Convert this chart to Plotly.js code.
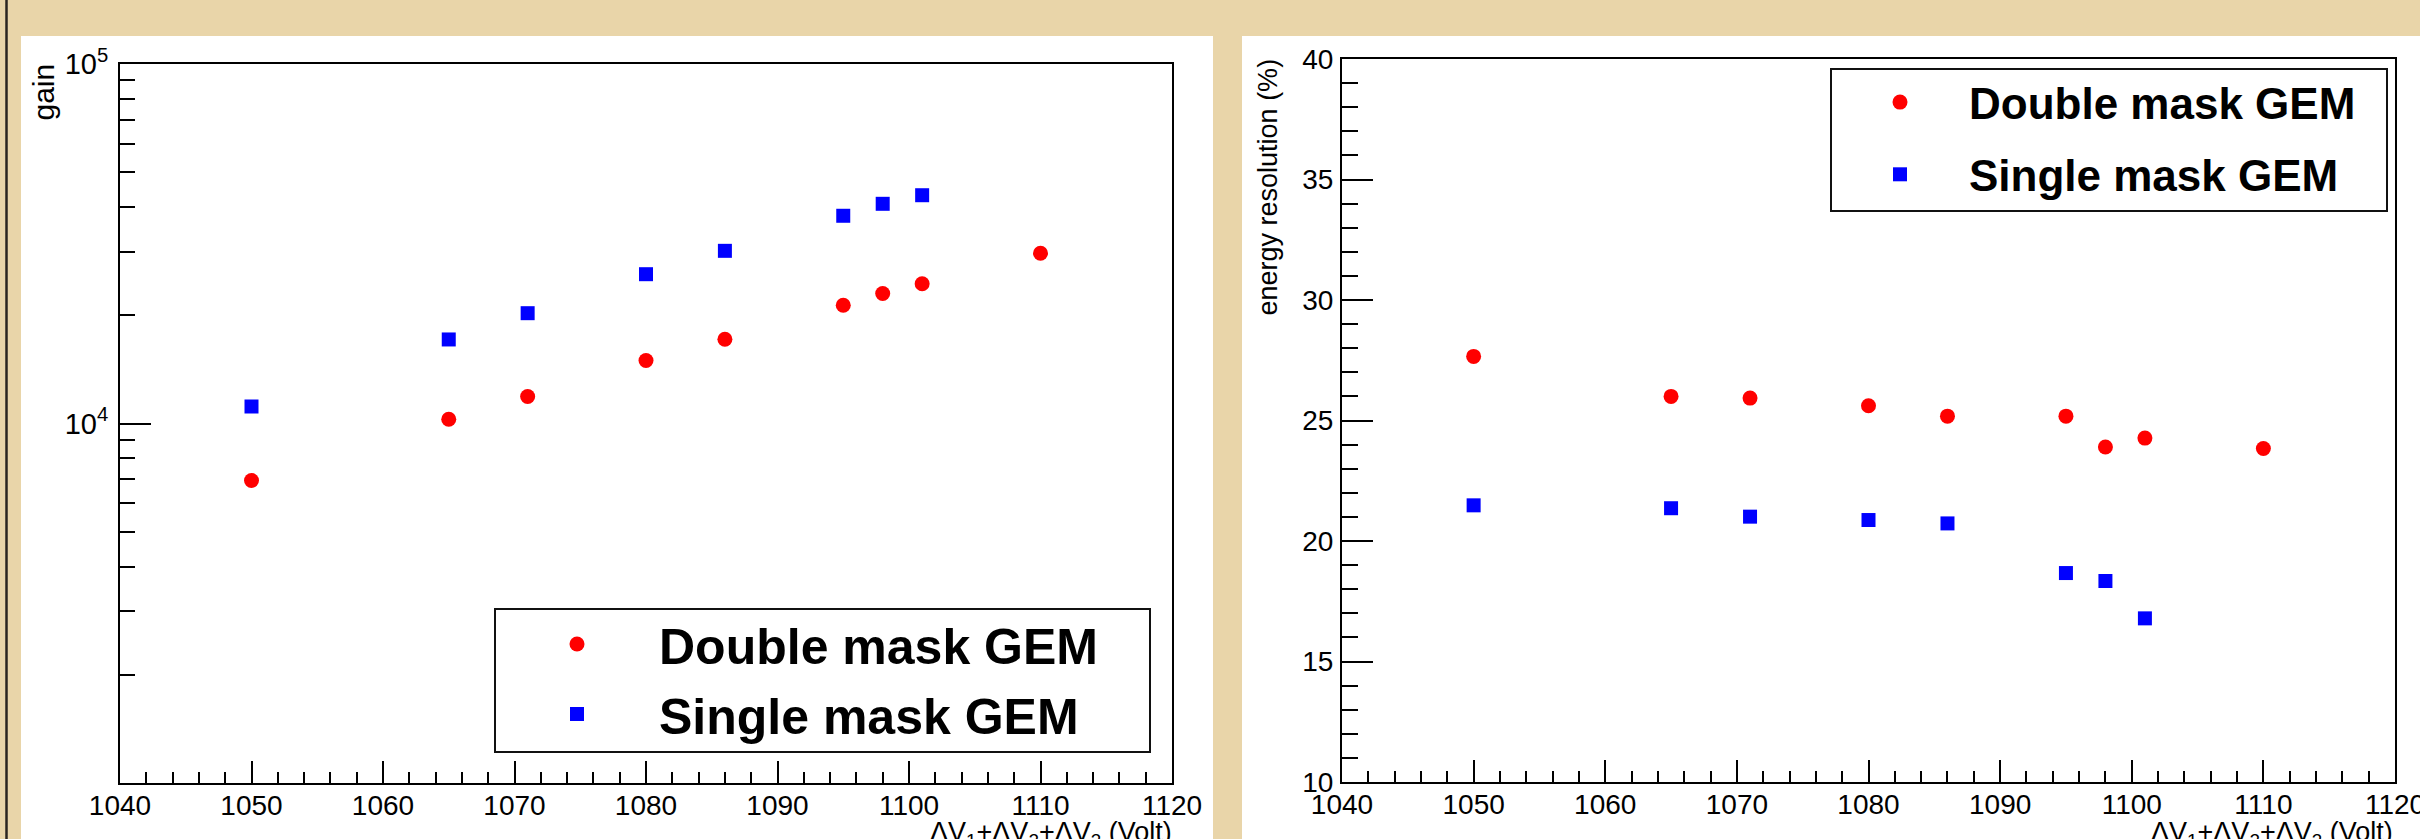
<!DOCTYPE html>
<html>
<head>
<meta charset="utf-8">
<script src="https://cdn.plot.ly/plotly-3.0.1.min.js"></script>
<style>html,body{margin:0;padding:0;background:#e9d5a9;}</style>
</head>
<body>
<div id="chart" style="width:2420px;height:839px;"></div>
<script>
// ---- data ----
const voltageDouble = [1050, 1065, 1071, 1080, 1086, 1095, 1098, 1101, 1110];
const voltageSingle = [1050, 1065, 1071, 1080, 1086, 1095, 1098, 1101];
const gainDouble = [6940, 10280, 11890, 14970, 17160, 21330, 22990, 24470, 29770];
const gainSingle = [11150, 17130, 20270, 26020, 30220, 37830, 40840, 43150];
const resDouble = [27.66, 26.0, 25.93, 25.61, 25.18, 25.18, 23.90, 24.27, 23.84];
const resSingle = [21.48, 21.36, 21.01, 20.87, 20.73, 18.67, 18.34, 16.79];
const seriesNames = ['Double mask GEM', 'Single mask GEM'];
const gainTickVals = [1e4, 1e5];
const gainTickText = ['10<sup>4</sup>', '10<sup>5</sup>'];
const xTitle = '\u0394V<sub>1</sub>+\u0394V<sub>2</sub>+\u0394V<sub>3</sub> (Volt)';
const yTitleLeft = 'gain';
const yTitleRight = 'energy resolution (%)';

// ---- layout helpers ----
const W = 2420, H = 839;
const px = v => v / W;
const py = v => (H - v) / H;
const FONT = 'Liberation Sans, Arial, Helvetica, sans-serif';

const gainMinor = [];
for (let d = 1e3; d < 1e5; d *= 10) for (let k = 2; k <= 9; k++) gainMinor.push(k * d);

const redMarker = {symbol: 'circle', size: 15, color: '#ff0000'};
const blueMarker = {symbol: 'square', size: 14, color: '#0000ff'};

const traces = [
  {x: voltageDouble, y: gainDouble, type: 'scatter', mode: 'markers', name: seriesNames[0],
   marker: redMarker, xaxis: 'x', yaxis: 'y', legend: 'legend', legendgroup: 'a'},
  {x: voltageSingle, y: gainSingle, type: 'scatter', mode: 'markers', name: seriesNames[1],
   marker: blueMarker, xaxis: 'x', yaxis: 'y', legend: 'legend', legendgroup: 'b'},
  {x: voltageDouble, y: resDouble, type: 'scatter', mode: 'markers', name: seriesNames[0],
   marker: redMarker, xaxis: 'x2', yaxis: 'y2', legend: 'legend2', legendgroup: 'c'},
  {x: voltageSingle, y: resSingle, type: 'scatter', mode: 'markers', name: seriesNames[1],
   marker: blueMarker, xaxis: 'x2', yaxis: 'y2', legend: 'legend2', legendgroup: 'd'}
];

const baseAxis = {
  showline: true, linecolor: '#000', linewidth: 2, mirror: true,
  showgrid: false, zeroline: false, ticks: 'inside', tickcolor: '#000', tickwidth: 2,
  tickfont: {family: FONT, size: 28, color: '#000'}, automargin: false,
  ticklabeloverflow: 'allow'
};

const xAxisCommon = Object.assign({}, baseAxis, {
  range: [1040, 1120], tickmode: 'linear', tick0: 1040, dtick: 10, ticklen: 22,
  minor: {ticks: 'inside', ticklen: 11, dtick: 2, tick0: 1040, tickcolor: '#000', tickwidth: 2, showgrid: false},
  ticklabelstandoff: -4
});

const legendBox = (x0, y0, x1, y1) => ({
  type: 'rect', xref: 'paper', yref: 'paper', x0: px(x0), x1: px(x1), y0: py(y1), y1: py(y0),
  fillcolor: '#ffffff', line: {color: '#111', width: 2}, layer: 'above'
});

const layout = {
  width: W, height: H, autosize: false,
  margin: {l: 0, r: 0, t: 0, b: 0, pad: 0},
  paper_bgcolor: '#e9d5a9', plot_bgcolor: '#ffffff',
  showlegend: true,
  xaxis: Object.assign({}, xAxisCommon, {domain: [px(120), px(1172)], anchor: 'y'}),
  yaxis: Object.assign({}, baseAxis, {
    type: 'log', range: [3, 5], domain: [py(783), py(64)], anchor: 'x',
    tickmode: 'array', tickvals: gainTickVals, ticktext: gainTickText, ticklen: 31,
    minor: {ticks: 'inside', ticklen: 15, tickmode: 'array', tickvals: gainMinor, tickcolor: '#000', tickwidth: 2, showgrid: false},
    tickfont: {family: FONT, size: 29, color: '#000'}, ticklabelstandoff: 4
  }),
  xaxis2: Object.assign({}, xAxisCommon, {domain: [px(1342), px(2395)], anchor: 'y2'}),
  yaxis2: Object.assign({}, baseAxis, {
    range: [10, 40], domain: [py(782), py(59)], anchor: 'x2',
    tickmode: 'linear', tick0: 10, dtick: 5, ticklen: 31,
    minor: {ticks: 'inside', ticklen: 16, dtick: 1, tick0: 10, tickcolor: '#000', tickwidth: 2, showgrid: false},
    tickfont: {family: FONT, size: 28, color: '#000'}, ticklabelstandoff: 1
  }),
  legend: {
    x: px(495), y: py(605), xanchor: 'left', yanchor: 'top', xref: 'paper', yref: 'paper',
    bgcolor: 'rgba(0,0,0,0)', borderwidth: 0,
    font: {family: FONT, size: 50, color: '#000', weight: 'bold'},
    itemwidth: 154, tracegroupgap: 2, traceorder: 'grouped'
  },
  legend2: {
    x: px(1831), y: py(67), xanchor: 'left', yanchor: 'top', xref: 'paper', yref: 'paper',
    bgcolor: 'rgba(0,0,0,0)', borderwidth: 0,
    font: {family: FONT, size: 44, color: '#000', weight: 'bold'},
    itemwidth: 128, tracegroupgap: 12, traceorder: 'grouped'
  },
  shapes: [
    {type: 'rect', xref: 'paper', yref: 'paper', x0: px(21), x1: px(1213), y0: 0, y1: py(36),
     fillcolor: '#ffffff', line: {width: 0}, layer: 'below'},
    {type: 'rect', xref: 'paper', yref: 'paper', x0: px(1242), x1: 1, y0: 0, y1: py(36),
     fillcolor: '#ffffff', line: {width: 0}, layer: 'below'},
    {type: 'line', xref: 'paper', yref: 'paper', x0: px(6.5), x1: px(6.5), y0: 0, y1: 1,
     line: {color: '#2a2520', width: 2.5}, layer: 'below'},
    legendBox(495, 609, 1150, 752),
    legendBox(1831, 69, 2387, 211)
  ],
  annotations: [
    {text: yTitleLeft, textangle: -90, xref: 'paper', yref: 'paper', x: px(43), y: py(62),
     xanchor: 'center', yanchor: 'top', showarrow: false, font: {family: FONT, size: 30, color: '#000'}},
    {text: yTitleRight, textangle: -90, xref: 'paper', yref: 'paper', x: px(1268), y: py(57),
     xanchor: 'center', yanchor: 'top', showarrow: false, font: {family: FONT, size: 27, color: '#000'}},
    {text: xTitle, xref: 'paper', yref: 'paper', x: px(1174), y: py(815),
     xanchor: 'right', yanchor: 'top', showarrow: false, font: {family: FONT, size: 27, color: '#000'}},
    {text: xTitle, xref: 'paper', yref: 'paper', x: px(2395), y: py(815),
     xanchor: 'right', yanchor: 'top', showarrow: false, font: {family: FONT, size: 27, color: '#000'}}
  ]
};

Plotly.newPlot('chart', traces, layout, {staticPlot: true, displayModeBar: false});
</script>
</body>
</html>
